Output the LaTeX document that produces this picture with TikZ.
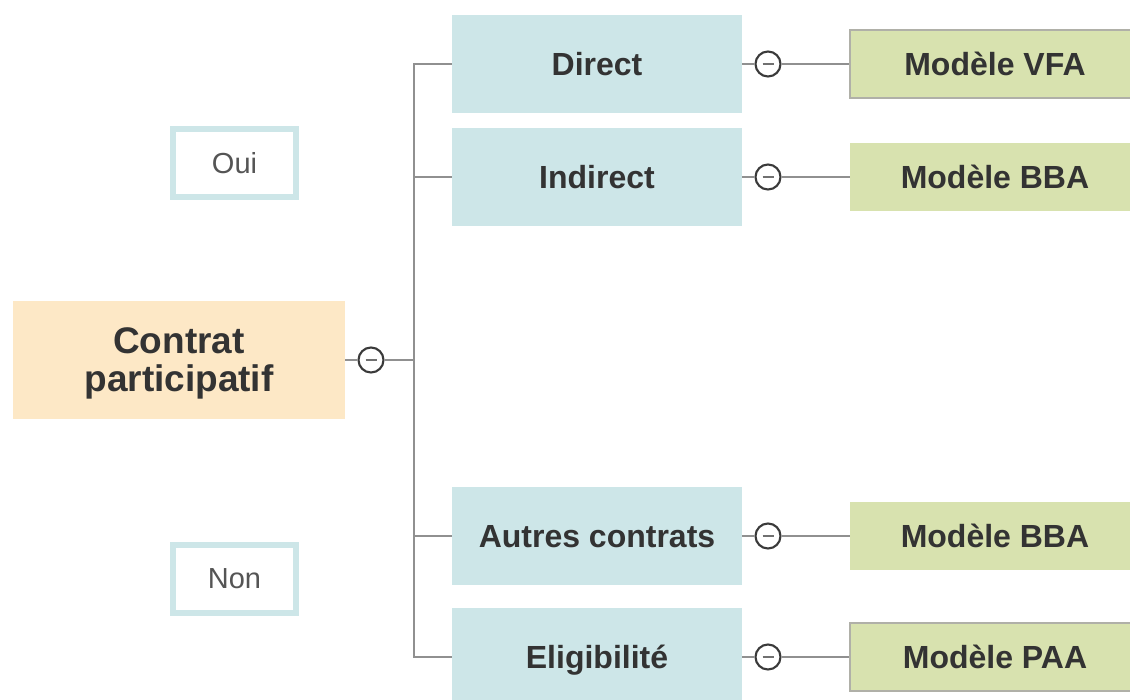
\documentclass[tikz,border=0pt]{standalone}
\usepackage{fontspec}
\setmainfont{Liberation Sans}
\definecolor{rootfill}{HTML}{FDE8C6}
\definecolor{cyanfill}{HTML}{CDE6E8}
\definecolor{greenfill}{HTML}{D8E2AF}
\definecolor{greenedge}{HTML}{B0B0A8}
\definecolor{linegray}{HTML}{909090}
\definecolor{circedge}{HTML}{3A3A3A}
\definecolor{minusgray}{HTML}{707070}
\definecolor{txt}{HTML}{333333}
\definecolor{tagtxt}{HTML}{555555}
\begin{document}
\begin{tikzpicture}[x=1pt,y=-1pt,
  conn/.style={draw=linegray, line width=2.2},
  rootbox/.style={fill=rootfill, minimum width=332, minimum height=118,
    align=center, text=txt, inner sep=0, text depth=0,
    font=\fontsize{37}{38}\selectfont\bfseries},
  branch/.style={fill=cyanfill, minimum width=290, minimum height=98,
    text=txt, inner sep=0, text height=23, text depth=0,
    font=\fontsize{32}{38}\selectfont\bfseries},
  leaf/.style={fill=greenfill, minimum width=290, minimum height=68,
    text=txt, inner sep=0, text height=23, text depth=0,
    font=\fontsize{32}{38}\selectfont\bfseries},
  leafedge/.style={leaf, draw=greenedge, line width=1.6},
  tag/.style={draw=cyanfill, line width=6, fill=white, minimum width=123,
    minimum height=68, text=tagtxt, inner sep=0, text height=20, text depth=0,
    font=\fontsize{29}{34}\selectfont},
  toggle/.style={circle, draw=circedge, line width=2.1, fill=white,
    minimum size=25, inner sep=0,
    path picture={\draw[minusgray, line width=2.4]
      ([xshift=-5.5pt]path picture bounding box.center) --
      ([xshift=5.5pt]path picture bounding box.center);}}
]
\useasboundingbox (0,0) rectangle (1130,699);
\clip (0,0) rectangle (1130,699);

% root topic
\node[rootbox] (root) at (179,360) {Contrat\\participatif};
\node[toggle] (t0) at (371,360) {};
\coordinate (j) at (414,360);

% second level
\node[branch] (b1) at (597,64) {Direct};
\node[branch] (b2) at (597,177) {Indirect};
\node[branch] (b3) at (597,536) {Autres contrats};
\node[branch] (b4) at (597,657) {Eligibilité};

% toggles of the second level
\node[toggle] (t1) at (768,64) {};
\node[toggle] (t2) at (768,177) {};
\node[toggle] (t3) at (768,536) {};
\node[toggle] (t4) at (768,657) {};

% measurement models
\node[leafedge] (l1) at (995,64) {Modèle VFA};
\node[leaf] (l2) at (995,177) {Modèle BBA};
\node[leaf] (l3) at (995,536) {Modèle BBA};
\node[leafedge] (l4) at (995,657) {Modèle PAA};

% floating labels
\node[tag] (oui) at (234.5,163) {Oui};
\node[tag] (non) at (234.5,578.5) {Non};

% connectors
\draw[conn] (root.east) -- (t0.west);
\draw[conn] (t0.east) -- (j);
\draw[conn] (j) |- (b1.west);
\draw[conn] (j) |- (b2.west);
\draw[conn] (j) |- (b3.west);
\draw[conn] (j) |- (b4.west);
\foreach \i in {1,2,3,4}{
  \draw[conn] (b\i.east) -- (t\i.west);
  \draw[conn] (t\i.east) -- (l\i.west);
}
\end{tikzpicture}
\end{document}
